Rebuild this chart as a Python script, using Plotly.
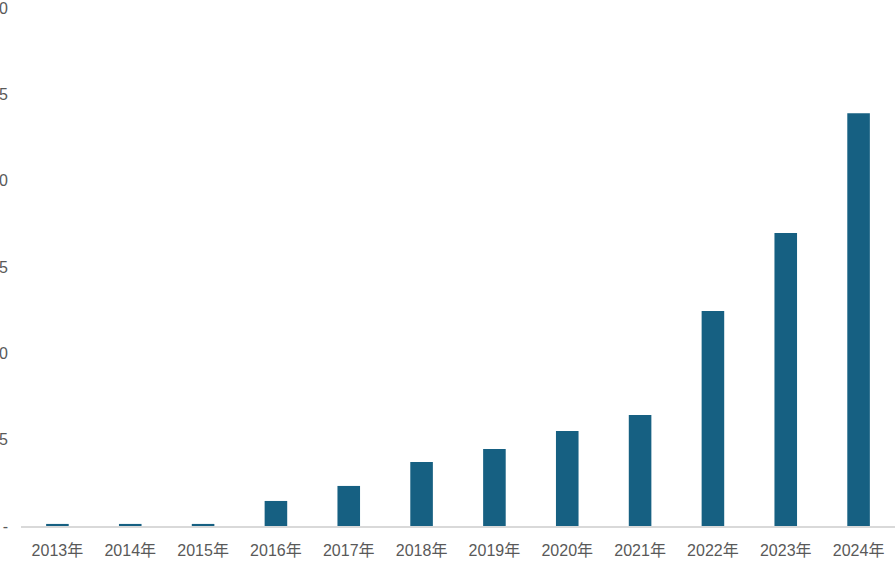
import plotly.graph_objects as go

categories = ["2013年", "2014年", "2015年", "2016年", "2017年", "2018年",
              "2019年", "2020年", "2021年", "2022年", "2023年", "2024年"]
values = [0.12, 0.12, 0.12, 1.45, 2.32, 3.71, 4.46, 5.5, 6.43, 12.45, 16.97, 23.91]
y_tickvals = [0, 5, 10, 15, 20, 25, 30]
y_ticktext = ["-", "5", "10", "15", "20", "25", "30"]

fig = go.Figure(go.Bar(
    x=categories, y=values,
    marker=dict(color="#166082", line=dict(width=0)),
    width=0.31,
    cliponaxis=False,
))

fig.update_layout(
    width=896, height=570,
    margin=dict(l=21, r=1, t=8, b=44, autoexpand=False),
    plot_bgcolor="white", paper_bgcolor="white",
    showlegend=False,
    font=dict(family="Liberation Sans, Noto Sans CJK SC, sans-serif", size=16, color="#595959"),
)
fig.update_xaxes(
    showgrid=False, showline=True, linecolor="#d9d9d9", linewidth=2,
    ticks="", tickfont=dict(size=16, color="#595959"),
    automargin=False, ticklabelstandoff=9,
)
fig.update_yaxes(
    range=[0, 30.001], showgrid=False, zeroline=False, showline=False,
    tickvals=y_tickvals, ticktext=y_ticktext, ticklabelstandoff=12,
    tickfont=dict(size=16, color="#595959"),
    automargin=False, ticklabeloverflow="allow",
)

fig.write_html(
    "out.html",
    config={"displayModeBar": False},
    post_script="document.body.style.margin='0';document.body.style.overflow='hidden';",
)
